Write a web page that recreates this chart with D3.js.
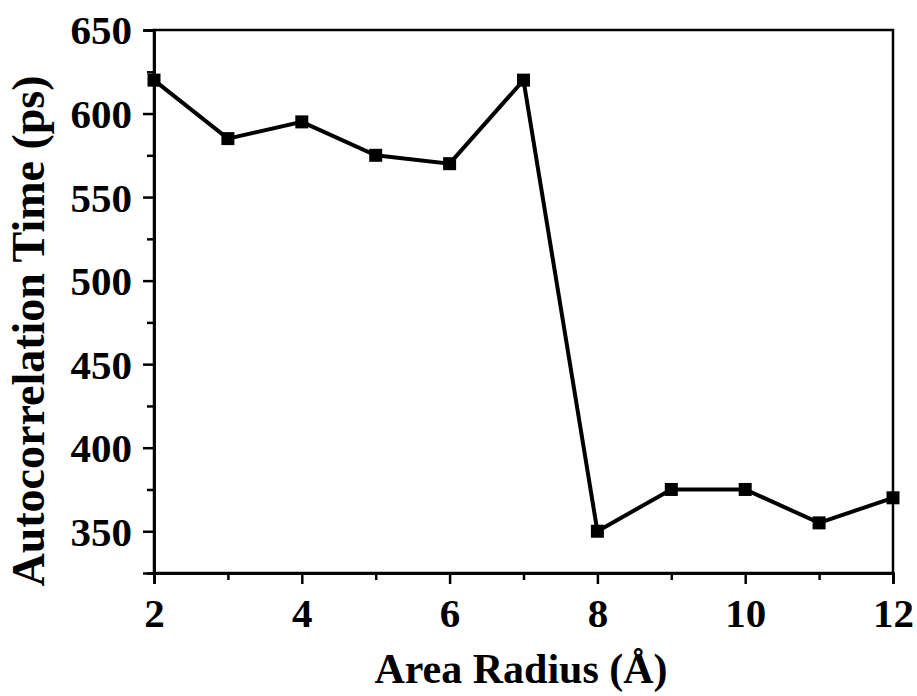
<!DOCTYPE html>
<html>
<head>
<meta charset="utf-8">
<script src="https://cdn.jsdelivr.net/npm/d3@7"></script>
<style>
  body { margin: 0; background: #fff; }
  svg text { font-family: "Liberation Serif", "Times New Roman", serif; font-weight: bold; fill: #000; }
</style>
</head>
<body>
<div id="chart"></div>
<script>
// Autocorrelation time vs area radius
const radius = [2, 3, 4, 5, 6, 7, 8, 9, 10, 11, 12];
const autocorrTime = [620, 585, 595, 575, 570, 620, 350, 375, 375, 355, 370];
const xTicks = [2, 4, 6, 8, 10, 12];
const yTicks = [350, 400, 450, 500, 550, 600, 650];

const width = 917, height = 696;
const margin = { top: 30, right: 24, bottom: 123, left: 154 };

const svg = d3.select("#chart").append("svg")
  .attr("width", width)
  .attr("height", height);

const x = d3.scaleLinear().domain([2, 12]).range([margin.left, width - margin.right]);
const y = d3.scaleLinear().domain([325, 650]).range([height - margin.bottom, margin.top]);

// frame (top and right, no ticks)
svg.append("rect")
  .attr("x", x(2)).attr("y", y(650))
  .attr("width", x(12) - x(2)).attr("height", y(325) - y(650))
  .attr("fill", "none").attr("stroke", "#000").attr("stroke-width", 2.5);

// minor ticks
const xAxisMinor = d3.axisBottom(x).tickValues([3, 5, 7, 9, 11]).tickSize(7).tickFormat("");
const yAxisMinor = d3.axisLeft(y).tickValues([375, 425, 475, 525, 575, 625]).tickSize(7).tickFormat("");

svg.append("g").attr("transform", `translate(0,${y(325)})`).call(xAxisMinor);
svg.append("g").attr("transform", `translate(${x(2)},0)`).call(yAxisMinor);

// major axes
const gx = svg.append("g")
  .attr("transform", `translate(0,${y(325)})`)
  .call(d3.axisBottom(x).tickValues(xTicks).tickSize(11));
const gy = svg.append("g")
  .attr("transform", `translate(${x(2)},0)`)
  .call(d3.axisLeft(y).tickValues([325].concat(yTicks)).tickSize(11).tickPadding(11)
    .tickFormat(d => d === 325 ? "" : d));

svg.selectAll(".domain").attr("stroke-width", 2.5);
svg.selectAll(".tick line").attr("stroke-width", 2.5);
svg.selectAll(".tick text").attr("font-size", 41).attr("font-family", null);
gx.selectAll(".tick text").attr("y", 54).attr("dy", 0);
gy.selectAll(".tick text").attr("dy", "0.34em");
gy.selectAll(".tick").filter(d => d === 325).select("line").attr("x2", 0);

// line
const pts = radius.map((r, i) => [r, autocorrTime[i]]);
svg.append("path")
  .datum(pts)
  .attr("fill", "none")
  .attr("stroke", "#000")
  .attr("stroke-width", 4)
  .attr("d", d3.line().x(d => x(d[0])).y(d => y(d[1])));

// square markers
const s = 13;
svg.append("g").selectAll("rect")
  .data(pts)
  .join("rect")
  .attr("x", d => x(d[0]) - s / 2)
  .attr("y", d => y(d[1]) - s / 2)
  .attr("width", s).attr("height", s)
  .attr("fill", "#000");

// axis titles
svg.append("text")
  .attr("x", 521)
  .attr("y", 683)
  .attr("text-anchor", "middle")
  .attr("font-size", 42)
  .text("Area Radius (Å)");

svg.append("text")
  .attr("transform", `translate(44,331) rotate(-90)`)
  .attr("text-anchor", "middle")
  .attr("font-size", 46)
  .text("Autocorrelation Time (ps)");
</script>
</body>
</html>
